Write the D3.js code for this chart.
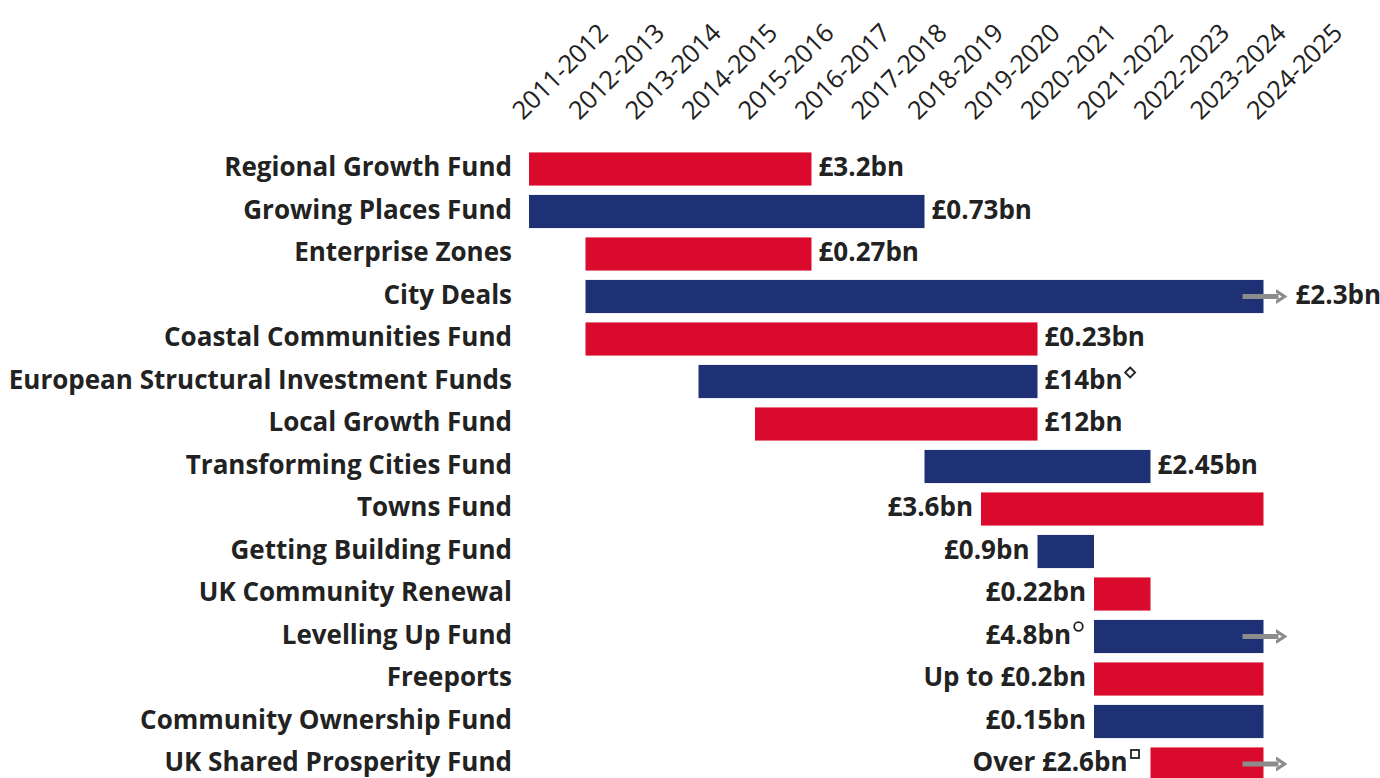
<!DOCTYPE html>
<html>
<head>
<meta charset="utf-8">
<script src="https://cdn.jsdelivr.net/npm/d3@7"></script>
<style>
  html, body { margin: 0; padding: 0; background: #fff; }
  svg { display: block; }
  text { font-family: "Open Sans", Lato, sans-serif; fill: #222; }
</style>
</head>
<body>
<svg id="chart" width="1380" height="778"></svg>
<script>
// Financial years shown along the top
const years = ["2011-2012", "2012-2013", "2013-2014", "2014-2015", "2015-2016", "2016-2017",
  "2017-2018", "2018-2019", "2019-2020", "2020-2021", "2021-2022", "2022-2023",
  "2023-2024", "2024-2025"];

// Funding programmes, top to bottom
const funds = ["Regional Growth Fund", "Growing Places Fund", "Enterprise Zones", "City Deals",
  "Coastal Communities Fund", "European Structural Investment Funds", "Local Growth Fund",
  "Transforming Cities Fund", "Towns Fund", "Getting Building Fund", "UK Community Renewal",
  "Levelling Up Fund", "Freeports", "Community Ownership Fund", "UK Shared Prosperity Fund"];

// First and last year of each programme
const starts = ["2011-2012", "2011-2012", "2012-2013", "2012-2013", "2012-2013", "2014-2015",
  "2015-2016", "2018-2019", "2019-2020", "2020-2021", "2021-2022", "2021-2022",
  "2021-2022", "2021-2022", "2022-2023"];
const ends = ["2016-2017", "2018-2019", "2016-2017", "2024-2025", "2020-2021", "2020-2021",
  "2020-2021", "2022-2023", "2024-2025", "2021-2022", "2022-2023", "2024-2025",
  "2024-2025", "2024-2025", "2024-2025"];

// Funding amounts and footnote markers
const amounts = ["£3.2bn", "£0.73bn", "£0.27bn", "£2.3bn", "£0.23bn", "£14bn", "£12bn",
  "£2.45bn", "£3.6bn", "£0.9bn", "£0.22bn", "£4.8bn", "Up to £0.2bn", "£0.15bn", "Over £2.6bn"];
const notes = ["", "", "", "", "", "diamond", "", "", "", "", "", "circle", "", "", "square"];

// Programmes that continue beyond the period shown
const continuing = ["City Deals", "Levelling Up Fund", "UK Shared Prosperity Fund"];

const RED = "#d90a2b";
const NAVY = "#1e3175";
const ARROW = "#8c8c8c";

const svg = d3.select("#chart");

const x = d3.scalePoint().domain(years).range([529, 1263.5]);
const y = d3.scaleBand().domain(funds).range([147.75, 785.25])
  .paddingInner(0.22).paddingOuter(0.11);

// Year labels, rotated
svg.append("g").selectAll("text").data(years).join("text")
  .attr("transform", d => `translate(${x(d) - 6},${121}) rotate(-45)`)
  .attr("font-size", 25.5)
  .attr("font-weight", 400)
  .attr("letter-spacing", -0.3)
  .text(d => d);

const rows = funds.map((f, i) => ({
  fund: f, start: starts[i], end: ends[i], amount: amounts[i], note: notes[i],
  cont: continuing.includes(f), i
}));

// Programme names
svg.append("g").selectAll("text").data(rows).join("text")
  .attr("x", 512)
  .attr("y", d => y(d.fund) + y.bandwidth() / 2 + 7)
  .attr("text-anchor", "end")
  .attr("font-size", 26)
  .attr("font-weight", 700)
  .text(d => d.fund);

// Timeline bars
svg.append("g").selectAll("rect").data(rows).join("rect")
  .attr("x", d => x(d.start))
  .attr("y", d => y(d.fund))
  .attr("width", d => x(d.end) - x(d.start))
  .attr("height", y.bandwidth())
  .attr("fill", d => d.i % 2 === 0 ? RED : NAVY);

// Arrows for programmes running past 2024-2025
svg.append("defs").append("marker")
  .attr("id", "head")
  .attr("viewBox", "0 0 10 10")
  .attr("refX", 2).attr("refY", 5)
  .attr("markerWidth", 3).attr("markerHeight", 3)
  .attr("markerUnits", "strokeWidth")
  .attr("orient", "auto")
  .append("path")
  .attr("d", "M0,1 L6,5 L0,9")
  .attr("fill", "none")
  .attr("stroke", ARROW)
  .attr("stroke-width", 2.2);

svg.append("g").selectAll("line").data(rows.filter(d => d.cont)).join("line")
  .attr("x1", d => x(d.end) - 21)
  .attr("x2", d => x(d.end) + 15)
  .attr("y1", d => y(d.fund) + y.bandwidth() / 2)
  .attr("y2", d => y(d.fund) + y.bandwidth() / 2)
  .attr("stroke", ARROW)
  .attr("stroke-width", 5)
  .attr("marker-end", "url(#head)");

// Amount labels: right of the bar for older programmes, left for newer ones
const amt = svg.append("g").selectAll("text").data(rows).join("text")
  .attr("x", d => d.i < 8
    ? x(d.end) + (d.cont ? 32 : 7)
    : x(d.start) - 8 - (d.note ? 15 : 0))
  .attr("y", d => y(d.fund) + y.bandwidth() / 2 + 7)
  .attr("text-anchor", d => d.i < 8 ? "start" : "end")
  .attr("font-size", 26)
  .attr("font-weight", 700)
  .text(d => d.amount);

// Footnote markers beside the amounts
amt.filter(d => d.note).each(function (d) {
  const bb = this.getBBox();
  const cx = bb.x + bb.width + 7.5;
  const cy = y(d.fund) + y.bandwidth() / 2 - 9;
  const g = svg.append("g")
    .attr("fill", "none").attr("stroke", "#222").attr("stroke-width", 1.8);
  if (d.note === "diamond") {
    g.append("path").attr("d", `M${cx},${cy - 5} L${cx + 5},${cy} L${cx},${cy + 5} L${cx - 5},${cy} Z`);
  } else if (d.note === "circle") {
    g.append("circle").attr("cx", cx).attr("cy", cy - 1).attr("r", 4.3);
  } else {
    g.append("rect").attr("x", cx - 4).attr("y", cy - 5).attr("width", 8).attr("height", 8);
  }
});
</script>
</body>
</html>
